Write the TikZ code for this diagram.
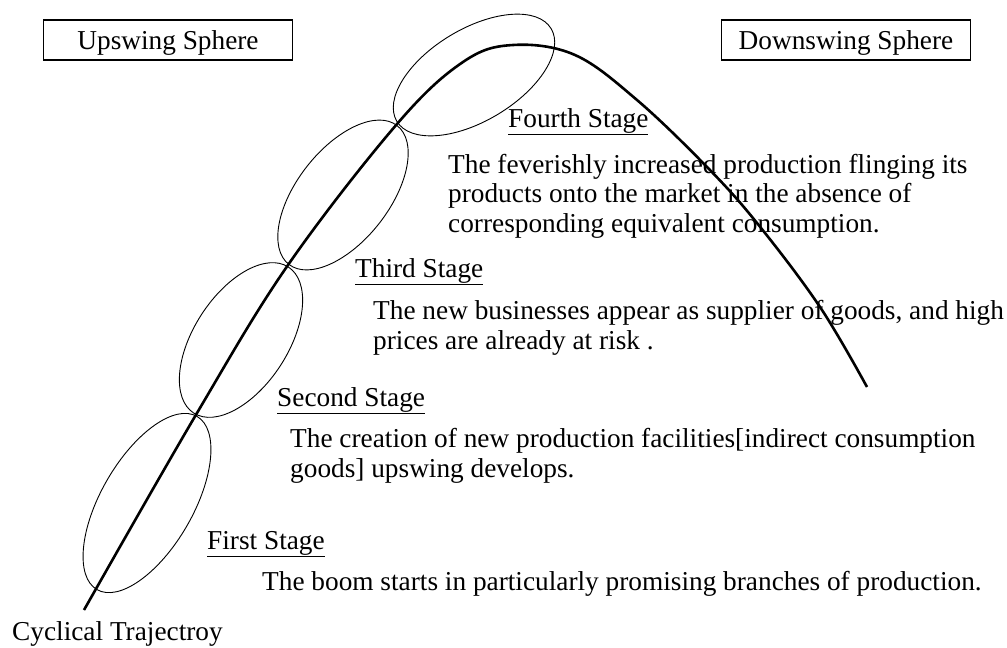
\documentclass[tikz,border=0pt]{standalone}
\usepackage{fontspec}
\setmainfont{Liberation Serif}
\usetikzlibrary{positioning}

\begin{document}
\begin{tikzpicture}[x=1pt,y=-1pt,
    every node/.style={font=\fontsize{27.3}{29.5}\selectfont},
    sphere/.style={draw,line width=1.1pt,minimum width=249pt,minimum height=40pt,inner sep=0pt,text depth=0pt},
    stagename/.style={anchor=base west,inner sep=0pt},
    stagetext/.style={anchor=base west,align=left,inner sep=0pt},
    phase/.style={line width=0.9pt}]
    \useasboundingbox (0,0) rectangle (1007,648);
    % the two spheres
    \node[sphere] (up) at (168,40) {Upswing Sphere};
    \node[sphere] (down) at (846,40) {Downswing Sphere};
    % one ellipse per stage, along the curve
    \draw[phase,rotate around={60:(147,503)}] (147,503) ellipse [x radius=100,y radius=46];
    \draw[phase,rotate around={57:(241,340)}] (241,340) ellipse [x radius=87,y radius=47];
    \draw[phase,rotate around={52:(343,195)}] (343,195) ellipse [x radius=88,y radius=46];
    \draw[phase,rotate around={31:(474,75)}] (474,75) ellipse [x radius=90,y radius=46];
    % the trajectory
    \draw[line width=2.6pt] plot[smooth,tension=0.6] coordinates {(84,610) (197,413) (288,265) (397,124) (463,62) (513,45) (575,55) (637,100) (707,167) (757,223) (820,307) (867,387)};
    % stage labels (base of a text block sits under its last line)
    \node[stagename] (s1) at (207,549) {\underline{First Stage}};
    \node[stagetext] (t1) at (262,590) {The boom starts in particularly promising branches of production.};
    \node[stagename] (s2) at (277,406) {\underline{Second Stage}};
    \node[stagetext] (t2) at (290,477) {The creation of new production facilities[indirect consumption\\goods] upswing develops.};
    \node[stagename] (s3) at (355,277) {\underline{Third Stage}};
    \node[stagetext] (t3) at (373,349) {The new businesses appear as supplier of goods, and high\\prices are already at risk .};
    \node[stagename] (s4) at (508,127) {\underline{Fourth Stage}};
    \node[stagetext] (t4) at (448,232) {The feverishly increased production flinging its\\products onto the market in the absence of\\corresponding equivalent consumption.};
    \node[stagename] (cyc) at (12,640) {Cyclical Trajectroy};
\end{tikzpicture}
\end{document}
